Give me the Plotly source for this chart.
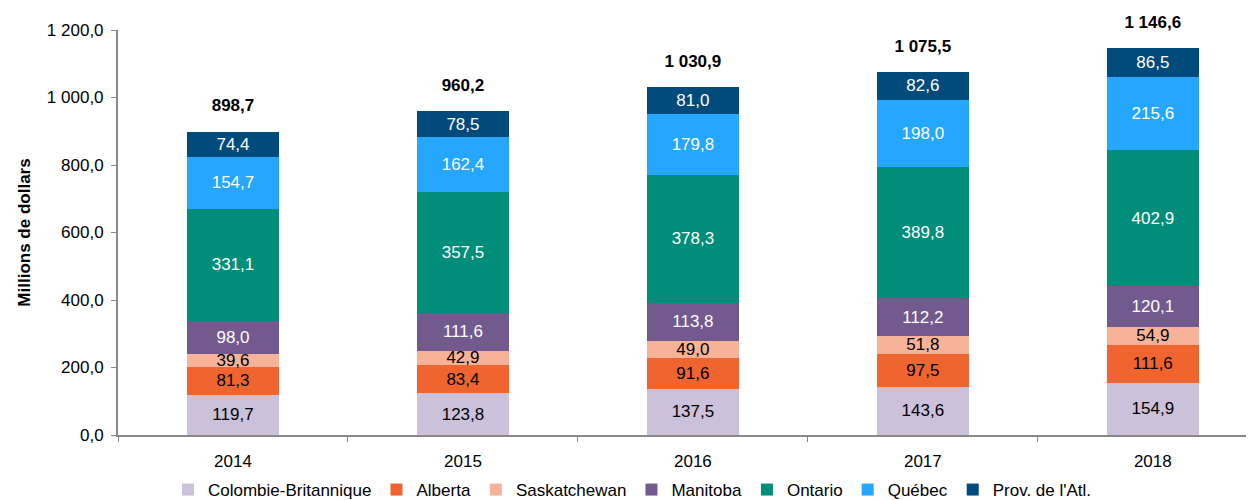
import plotly.graph_objects as go

years = ["2014", "2015", "2016", "2017", "2018"]
series_names = ["Colombie-Britannique", "Alberta", "Saskatchewan", "Manitoba",
                "Ontario", "Québec", "Prov. de l'Atl."]
colombie = [119.7, 123.8, 137.5, 143.6, 154.9]
alberta = [81.3, 83.4, 91.6, 97.5, 111.6]
saskatchewan = [39.6, 42.9, 49.0, 51.8, 54.9]
manitoba = [98.0, 111.6, 113.8, 112.2, 120.1]
ontario = [331.1, 357.5, 378.3, 389.8, 402.9]
quebec = [154.7, 162.4, 179.8, 198.0, 215.6]
atlantique = [74.4, 78.5, 81.0, 82.6, 86.5]
totals = [898.7, 960.2, 1030.9, 1075.5, 1146.6]
y_ticks = [0, 200, 400, 600, 800, 1000, 1200]

series_values = [colombie, alberta, saskatchewan, manitoba, ontario, quebec, atlantique]
colors = ["#CBC1DA", "#F0652F", "#F7B298", "#72598E", "#008E7A", "#25A6FF", "#004A7C"]
text_colors = ["black", "black", "black", "white", "white", "white", "white"]

FONT = "Liberation Sans, Arial, sans-serif"
FS = 17

fig = go.Figure()
for name, vals, col, tcol in zip(series_names, series_values, colors, text_colors):
    fig.add_trace(go.Bar(
        x=years, y=vals, name=name,
        marker=dict(color=col, line=dict(width=0)),
        width=0.4,
        texttemplate="%{y:.1f}",
        textposition="inside",
        insidetextanchor="middle",
        textangle=0,
        textfont=dict(color=tcol, size=FS, family=FONT),
        cliponaxis=False,
    ))

# totals above each stacked bar (invisible markers push the text upward)
fig.add_trace(go.Scatter(
    x=years, y=totals, mode="markers+text",
    marker=dict(size=24, opacity=0),
    texttemplate="<b>%{y:,.1f}</b>",
    textposition="top center",
    textfont=dict(size=FS, color="black", family=FONT),
    showlegend=False, hoverinfo="skip", cliponaxis=False,
))

fig.update_layout(
    barmode="stack",
    separators=", ",
    width=1254, height=500,
    margin=dict(l=110, r=8, t=22, b=73),
    plot_bgcolor="white", paper_bgcolor="white",
    font=dict(family=FONT, size=FS, color="black"),
    uniformtext=dict(mode="show", minsize=FS),
    legend=dict(
        orientation="h", x=0.044, xanchor="left", yref="container", y=0.036, yanchor="middle",
        font=dict(size=FS, family=FONT), itemwidth=30, traceorder="normal",
    ),
    showlegend=True,
)
fig.update_xaxes(
    type="category", range=[-0.5, 4.44], automargin=False,
    showline=True, linecolor="#888888", linewidth=2,
    ticks="outside", tickson="boundaries", ticklen=5, tickcolor="#888888",
    ticklabelstandoff=10,
    tickfont=dict(size=FS, family=FONT),
    showgrid=False,
)
fig.update_yaxes(
    range=[0, 1200], tickvals=y_ticks, tickformat=",.1f", automargin=False,
    showline=True, linecolor="#888888", linewidth=2,
    ticks="outside", ticklen=5, tickcolor="#888888",
    ticklabelstandoff=4,
    tickfont=dict(size=FS, family=FONT),
    showgrid=False, zeroline=False,
    title=dict(text="<b>Millions de dollars</b>", font=dict(size=FS, family=FONT), standoff=12),
)

fig.write_html("out.html")
